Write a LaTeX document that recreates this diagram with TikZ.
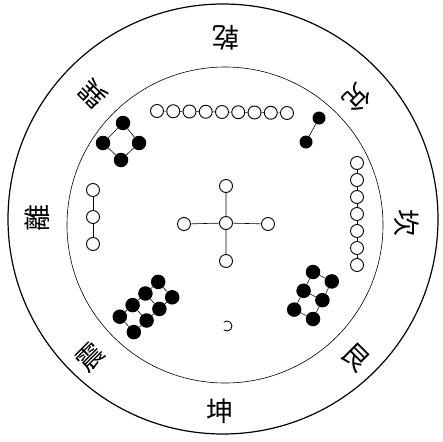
\documentclass[tikz,border=0pt]{standalone}
\usepackage{fontspec}
\newfontfamily\cjk{Noto Sans CJK TC}
\begin{document}
\begin{tikzpicture}[x=1pt,y=-1pt,
  wdot/.style={circle,draw,line width=0.9pt,minimum size=13pt,inner sep=0pt,fill=white},
  bdot/.style={circle,fill=black,minimum size=14.5pt,inner sep=0pt},
  link/.style={line width=0.6pt},
  gua/.style={font=\cjk\fontsize{27}{27}\selectfont,inner sep=0pt}]
\useasboundingbox (0,0) rectangle (443,441);
% rings
\draw[line width=1.2pt] (223,219) circle (215);
\draw[line width=0.6pt] (225,225) circle (158);
% trigram names
\node[gua,rotate=180] (qian) at (226,38) {乾};
\node[gua,rotate=-135] (dui) at (357,98) {兌};
\node[gua,rotate=-90] (kan) at (407,223) {坎};
\node[gua,rotate=-45] (gen) at (356,357) {艮};
\node[gua] (kun) at (220,411) {坤};
\node[gua,rotate=45] (zhen) at (90,357) {震};
\node[gua,rotate=90] (li) at (37,218) {離};
\node[gua,rotate=135] (xun) at (93,94) {巽};
% nine (top)
\foreach \i in {0,...,8} {
  \node[wdot] (n\i) at ({157+16.25*\i},{111+0.25*\i}) {};
}
\foreach \i [evaluate=\i as \j using int(\i+1)] in {0,...,7} \draw[link] (n\i) -- (n\j);
% seven (right)
\foreach \i in {0,...,6} {
  \node[wdot] (s\i) at (357,{163+17*\i}) {};
}
\foreach \i [evaluate=\i as \j using int(\i+1)] in {0,...,5} \draw[link] (s\i) -- (s\j);
% three (left)
\foreach \i in {0,1,2} {
  \node[wdot] (t\i) at (93,{190+27*\i}) {};
}
\draw[link] (t0) -- (t1) (t1) -- (t2);
% five (centre)
\node[wdot] (c0) at (226,223) {};
\node[wdot] (cN) at (226,186) {};
\node[wdot] (cS) at (226,261) {};
\node[wdot] (cW) at (184,224) {};
\node[wdot] (cE) at (268,224) {};
\draw[link] (c0) -- (cN) (c0) -- (cS) (c0) -- (cW) (c0) -- (cE);
% four (top left)
\node[bdot] (f1) at (123,123) {};
\node[bdot] (f2) at (103,143) {};
\node[bdot] (f3) at (139,143) {};
\node[bdot] (f4) at (121,160) {};
\draw[link] (f1) -- (f2) -- (f4) -- (f3) -- (f1);
% two (top right)
\node[bdot,minimum size=13pt] (w1) at (319,118) {};
\node[bdot,minimum size=13pt] (w2) at (306,142) {};
\draw[link] (w1) -- (w2);
% eight (bottom left)
\foreach \i in {0,...,3} \foreach \j in {0,1} {
  \pgfmathsetmacro\px{146+(\i-1.5)*12.8+(\j-0.5)*14}
  \pgfmathsetmacro\py{307-(\i-1.5)*11.6+(\j-0.5)*15.4}
  \node[bdot] (e\i\j) at (\px,\py) {};
}
\foreach \j in {0,1} \draw[link] (e0\j) -- (e1\j) -- (e2\j) -- (e3\j);
\foreach \i in {0,...,3} \draw[link] (e\i0) -- (e\i1);
% six (bottom right)
\foreach \i in {0,1,2} \foreach \j in {0,1} {
  \pgfmathsetmacro\px{313-9.4*\i+18.8*\j}
  \pgfmathsetmacro\py{272+18.8*\i+9.4*\j}
  \node[bdot] (x\i\j) at (\px,\py) {};
}
\foreach \j in {0,1} \draw[link] (x0\j) -- (x1\j) -- (x2\j);
\foreach \i in {0,1,2} \draw[link] (x\i0) -- (x\i1);
% one (bottom)
\coordinate (one) at (227,326);
\draw[line width=0.9pt] ([shift={(130:5)}]one) arc[start angle=130,end angle=-130,radius=5];
\end{tikzpicture}
\end{document}
